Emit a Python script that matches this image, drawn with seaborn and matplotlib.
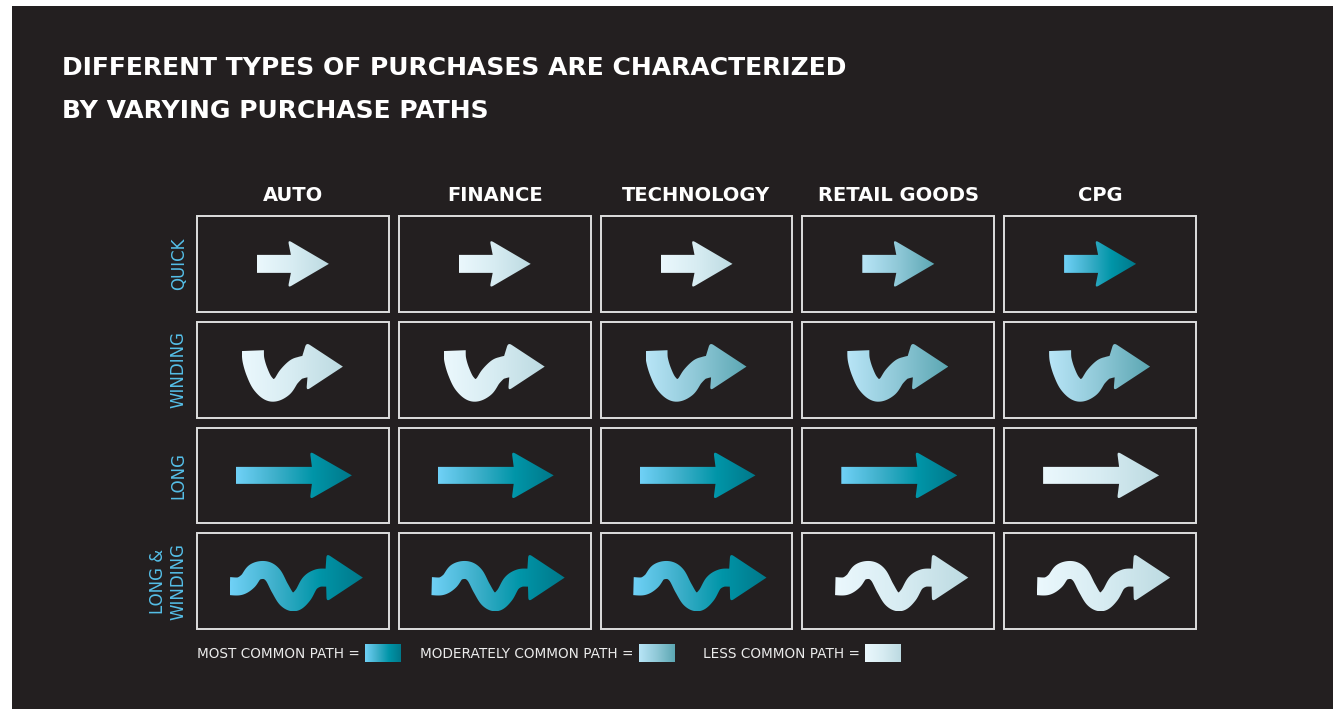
"""
Purchase path grid: how common each path shape is for each purchase category.
"""

import numpy as np
import pandas as pd
import matplotlib
matplotlib.use("Agg")
import matplotlib.pyplot as plt
import seaborn as sns
from matplotlib.colors import LinearSegmentedColormap, ListedColormap
from matplotlib.patches import Polygon, Rectangle

categories = ["AUTO", "FINANCE", "TECHNOLOGY", "RETAIL GOODS", "CPG"]
path_types = ["QUICK", "WINDING", "LONG", "LONG &\nWINDING"]

# 2 = most common path, 1 = moderately common, 0 = less common
quick = [0, 0, 0, 1, 2]
winding = [0, 0, 1, 1, 1]
long_path = [2, 2, 2, 2, 0]
long_winding = [2, 2, 2, 0, 0]

legend_labels = ["MOST COMMON PATH =", "MODERATELY COMMON PATH =", "LESS COMMON PATH ="]
legend_levels = [2, 1, 0]

title_lines = ["DIFFERENT TYPES OF PURCHASES ARE CHARACTERIZED",
               "BY VARYING PURCHASE PATHS"]

BG = "#231f20"
LABEL_BLUE = "#55bfe8"
BORDER = "#dedede"
W, H = 1338, 709

GRADIENTS = {
    2: LinearSegmentedColormap.from_list("most", ["#70d1f7", "#3fb0cb", "#0095a8", "#00788a"]),
    1: LinearSegmentedColormap.from_list("moderate", ["#b8e5f7", "#8fc8d7", "#5ca7b3"]),
    0: LinearSegmentedColormap.from_list("less", ["#ebf8fd", "#d7ecf2", "#bcdae1"]),
}

# arrow glyphs: guide line of the body, body width, head (barb dx, tip dx, half height)
# all in pixels from the cell centre, y pointing down
ARROWS = {
    "QUICK": dict(line=[(-36, 0), (-2, 0)], width=18, head=(-3, 38, 24)),
    "WINDING": dict(line=[(-40, -19), (-39.5, -10), (-36, 2), (-30, 14), (-21, 21),
                          (-11, 17), (-4, 7), (3, 0), (8, -2), (12, -3)],
                    width=22, head=(1.5, 38, 24)),
    "LONG": dict(line=[(-57, 0), (19, 0)], width=17, head=(-2, 40, 24)),
    "LONG &\nWINDING": dict(line=[(-63, 5), (-53, 5), (-45, 0), (-38, -9), (-28, -11),
                                  (-20, -6), (-13, 7), (-6, 18), (2, 21), (10, 14),
                                  (17, 2), (25, -3), (33, -3.5)],
                            width=18, head=(0.7, 37, 24)),
}


def smooth(points, n=16):
    """Catmull-Rom curve through the guide points of an arrow body."""
    p = np.asarray(points, dtype=float)
    p = np.vstack([p[0], p, p[-1]])
    t = np.linspace(0, 1, n, endpoint=False)[:, None]
    parts = []
    for i in range(1, len(p) - 2):
        p0, p1, p2, p3 = p[i - 1], p[i], p[i + 1], p[i + 2]
        parts.append(0.5 * (2 * p1 + (p2 - p0) * t
                            + (2 * p0 - 5 * p1 + 4 * p2 - p3) * t ** 2
                            + (3 * p1 - p0 - 3 * p2 + p3) * t ** 3))
    parts.append(p[-2][None, :])
    return np.vstack(parts)


def round_corner(a, b, c, r, n=6):
    a, b, c = (np.asarray(v, dtype=float) for v in (a, b, c))
    p1 = b + (a - b) / np.linalg.norm(a - b) * r
    p2 = b + (c - b) / np.linalg.norm(c - b) * r
    t = np.linspace(0, 1, n)[:, None]
    return (1 - t) ** 2 * p1 + 2 * (1 - t) * t * b + t ** 2 * p2


def arrow_outline(spec):
    """Closed outline (pixels) of a thick arrow body plus its head."""
    line = smooth(spec["line"])
    half = spec["width"] / 2
    tang = np.gradient(line, axis=0)
    tang /= np.linalg.norm(tang, axis=1)[:, None]
    norm = np.column_stack([-tang[:, 1], tang[:, 0]])
    upper = line - norm * half
    lower = line + norm * half
    xe, ye = line[-1]
    barb_dx, tip_dx, hh = spec["head"]
    barb_up = (xe + barb_dx, ye - hh)
    tip = (xe + tip_dx, ye)
    barb_lo = (xe + barb_dx, ye + hh)
    head = np.vstack([round_corner(upper[-1], barb_up, tip, 4),
                      [tip],
                      round_corner(tip, barb_lo, lower[-1], 4)])
    return np.vstack([upper, head, lower[::-1]])


def draw_arrow(ax, col, row, kind, level, ppx, ppy):
    pts = arrow_outline(ARROWS[kind])
    xy = np.column_stack([col + 0.5 + pts[:, 0] / ppx, row + 0.5 + pts[:, 1] / ppy])
    patch = Polygon(xy, closed=True, facecolor="none", edgecolor="none")
    ax.add_patch(patch)
    im = ax.imshow(np.linspace(0, 1, 256)[None, :], cmap=GRADIENTS[level],
                   extent=(xy[:, 0].min(), xy[:, 0].max(), xy[:, 1].max(), xy[:, 1].min()),
                   aspect="auto", interpolation="bilinear", zorder=3)
    im.set_clip_path(patch)


sns.set_theme(style="white")
plt.rcParams["font.family"] = ["DejaVu Sans"]

levels = pd.DataFrame([quick, winding, long_path, long_winding],
                      index=path_types, columns=categories)

fig = plt.figure(figsize=(W / 100, H / 100), dpi=100, facecolor="white")
fig.add_artist(Rectangle((12 / W, 0), (1333 - 12) / W, (H - 6) / H,
                         transform=fig.transFigure, facecolor=BG, edgecolor="none", zorder=0))

ax = fig.add_axes([192 / W, 1 - 634 / H, 1009 / W, 423 / H])
sns.heatmap(levels, ax=ax, cmap=ListedColormap([BG]), cbar=False,
            xticklabels=categories, yticklabels=path_types)
ax.set_facecolor(BG)
ax.set_xlabel("")
ax.set_ylabel("")
ax.xaxis.tick_top()
ax.tick_params(axis="x", length=0, pad=4, labelsize=14, labelcolor="white")
ax.tick_params(axis="y", length=0, pad=3, labelsize=12, labelcolor=LABEL_BLUE)
for lab in ax.get_xticklabels():
    lab.set_fontweight("bold")
    lab.set_rotation(0)
for lab in ax.get_yticklabels():
    lab.set_rotation(90)
    lab.set_va("center")
    lab.set_multialignment("center")
for s in ax.spines.values():
    s.set_visible(False)

bbox = ax.get_window_extent()
ppx = bbox.width / len(categories)
ppy = bbox.height / len(path_types)
gap = 10
gx, gy = gap / 2 / ppx, gap / 2 / ppy

for r, kind in enumerate(path_types):
    for c in range(len(categories)):
        ax.add_patch(Rectangle((c + gx, r + gy), 1 - 2 * gx, 1 - 2 * gy,
                               fill=False, edgecolor=BORDER, linewidth=1.4, zorder=2))
        draw_arrow(ax, c, r, kind, levels.iloc[r, c], ppx, ppy)

ax.set_xlim(0, len(categories))
ax.set_ylim(len(path_types), 0)

fig.text(62 / W, 1 - 75 / H, title_lines[0], color="white", fontsize=18,
         fontweight="bold", va="baseline")
fig.text(62 / W, 1 - 118 / H, title_lines[1], color="white", fontsize=18,
         fontweight="bold", va="baseline")

# legend: label text followed by a gradient swatch
renderer = fig.canvas.get_renderer()
for x_px, label, level in zip([197, 420, 703], legend_labels, legend_levels):
    t = fig.text(x_px / W, 1 - 658 / H, label, color="#ececec", fontsize=9.8,
                 va="baseline")
    bb = t.get_window_extent(renderer)
    sw = fig.add_axes([(bb.x1 + 5) / W, 1 - 662 / H, 36 / W, 18 / H])
    sw.imshow(np.linspace(0, 1, 256)[None, :], cmap=GRADIENTS[level], aspect="auto")
    sw.axis("off")

fig.savefig("out.png", dpi=100, facecolor="white")
plt.close(fig)
